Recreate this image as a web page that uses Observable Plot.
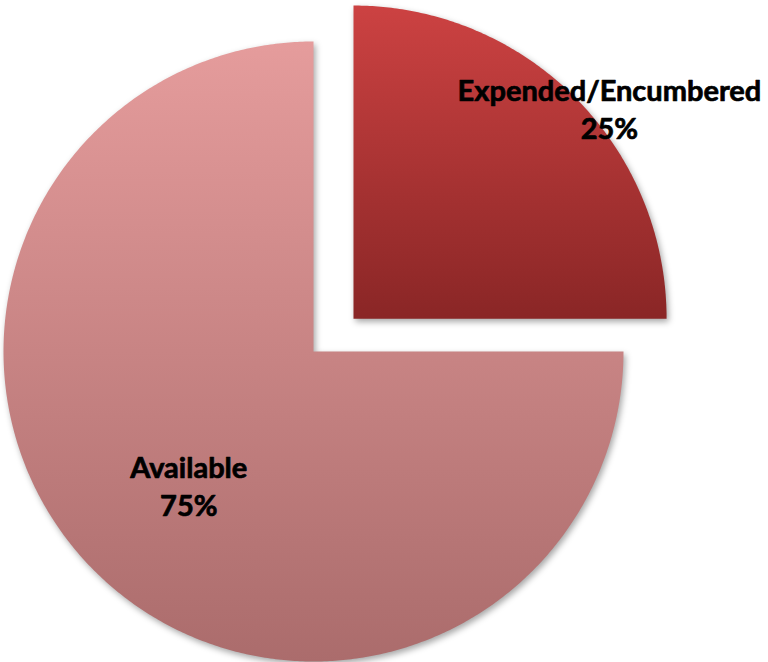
<!DOCTYPE html>
<html>
<head>
<meta charset="utf-8">
<script src="https://cdn.jsdelivr.net/npm/d3@7"></script>
<script src="https://cdn.jsdelivr.net/npm/@observablehq/plot@0.6"></script>
<style>
  html, body { margin: 0; padding: 0; background: #fff; }
  #chart svg { display: block; }
  .slice { filter: drop-shadow(2px 3px 3px rgba(0,0,0,0.35)); }
</style>
</head>
<body>
<div id="chart"></div>
<script>
// ---- data ----
const categories = ["Expended/Encumbered", "Available"];
const values = [25, 75];
const percentLabels = ["25%", "75%"];

// ---- styling / layout (not data) ----
const W = 768, H = 662;
const pxPerUnit = 310;
const cx = 313, cy = 351;                  // pixel position of pie centre
const explode = [[0.129, 0.106], [0, 0]];  // slice offsets (units)
const radius = [1.01, 1.0];
const gradients = [
  { id: "gRed", top: "#cc4242", bottom: "#8a2626" },
  { id: "gPink", top: "#e59c9c", bottom: "#ab6c6c" }
];
const labelPlace = [ { angle: 50.5, r: 1.07 }, { angle: 223, r: 0.59 } ];

const arcs = d3.pie().sort(null)(values);

function slicePoints(a, i) {
  const [ox, oy] = explode[i];
  const pts = [{x: ox, y: oy}];
  const n = Math.max(8, Math.ceil((a.endAngle - a.startAngle) / (Math.PI / 360)));
  for (let k = 0; k <= n; k++) {
    const t = a.startAngle + (a.endAngle - a.startAngle) * k / n;
    pts.push({x: ox + Math.sin(t) * radius[i], y: oy + Math.cos(t) * radius[i]});
  }
  pts.push({x: ox, y: oy});
  return pts;
}

const labels = arcs.map((a, i) => {
  const ang = labelPlace[i].angle * Math.PI / 180;
  const [ox, oy] = explode[i];
  return {
    x: ox + Math.sin(ang) * labelPlace[i].r,
    y: oy + Math.cos(ang) * labelPlace[i].r,
    text: categories[i] + "\n" + percentLabels[i]
  };
});

const chart = Plot.plot({
  width: W,
  height: H,
  margin: 0,
  x: { axis: null, domain: [-cx / pxPerUnit, (W - cx) / pxPerUnit] },
  y: { axis: null, domain: [-(H - cy) / pxPerUnit, cy / pxPerUnit] },
  style: { background: "#fff", overflow: "visible" },
  marks: [
    ...arcs.map((a, i) =>
      Plot.line(slicePoints(a, i), {
        x: "x", y: "y",
        fill: `url(#${gradients[i].id})`,
        stroke: "none",
        curve: "linear",
        className: "slice"
      })
    ),
    Plot.text(labels, {
      x: "x", y: "y", text: "text",
      fontFamily: "Lato, 'Open Sans', sans-serif",
      fontWeight: "bold",
      fontSize: 29,
      lineHeight: 1.3,
      fill: "#000",
      stroke: "#000",
      strokeWidth: 0.7
    })
  ]
});

// gradient definitions
const ns = "http://www.w3.org/2000/svg";
const defs = document.createElementNS(ns, "defs");
for (const g of gradients) {
  const lg = document.createElementNS(ns, "linearGradient");
  lg.setAttribute("id", g.id);
  lg.setAttribute("x1", "0"); lg.setAttribute("y1", "0");
  lg.setAttribute("x2", "0"); lg.setAttribute("y2", "1");
  [[0, g.top], [1, g.bottom]].forEach(([o, c]) => {
    const s = document.createElementNS(ns, "stop");
    s.setAttribute("offset", o);
    s.setAttribute("stop-color", c);
    lg.appendChild(s);
  });
  defs.appendChild(lg);
}
chart.insertBefore(defs, chart.firstChild);

document.getElementById("chart").appendChild(chart);
</script>
</body>
</html>
